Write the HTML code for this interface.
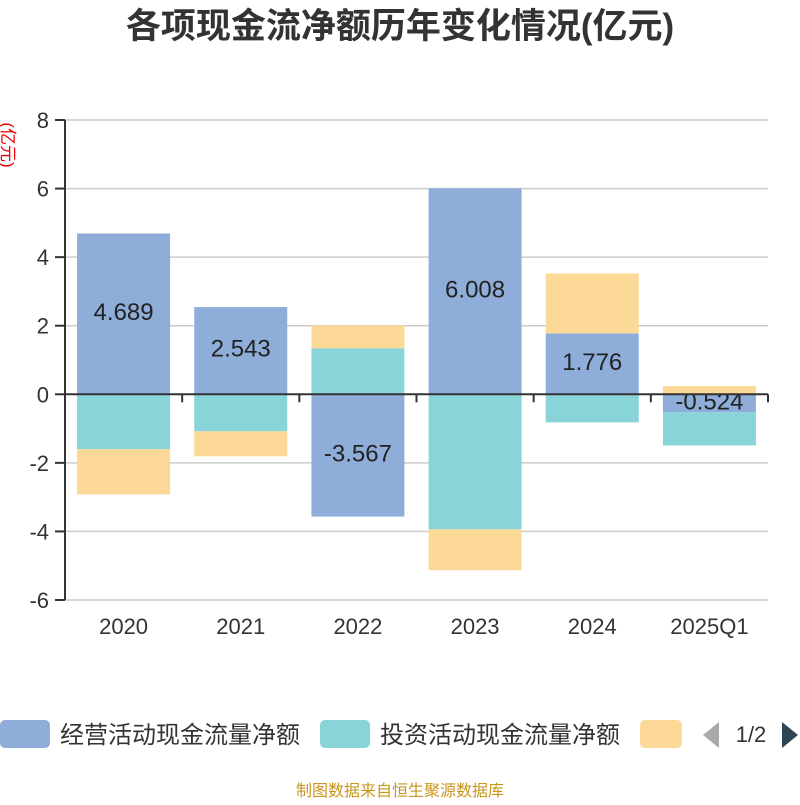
<!DOCTYPE html>
<html><head><meta charset="utf-8"><style>
body{margin:0;background:#fff;width:800px;height:800px;overflow:hidden;font-family:"Liberation Sans","Noto Sans CJK SC",sans-serif}
</style></head><body>
<svg id="c" width="800" height="800" xmlns="http://www.w3.org/2000/svg">
<text x="400" y="38" text-anchor="middle" font-size="35" font-weight="bold" fill="#333">各项现金流净额历年变化情况(亿元)</text>
<text transform="translate(2,145) rotate(90)" text-anchor="middle" font-size="17" fill="#e00">(亿元)</text>
<g id="grid"></g><g id="bars"></g><g id="axes"></g>
<g>
<rect x="0" y="720" width="50" height="28" rx="5" fill="#8eadd9"/>
<text x="60" y="743" font-size="24" fill="#333">经营活动现金流量净额</text>
<rect x="320" y="720" width="50" height="28" rx="5" fill="#88d4d8"/>
<text x="380" y="743" font-size="24" fill="#333">投资活动现金流量净额</text>
<rect x="640" y="720" width="42" height="28" rx="5" fill="#fdd998"/>
<polygon points="719,722 719,748 703,735" fill="#aaa"/>
<text x="751" y="742" text-anchor="middle" font-size="22" fill="#333">1/2</text>
<polygon points="782,722 782,748 798,735" fill="#2f4554"/>
</g>
<text x="400" y="796" text-anchor="middle" font-size="16" fill="#c8961e">制图数据来自恒生聚源数据库</text>
</svg>
<script>
const categories=["2020","2021","2022","2023","2024","2025Q1"];
const operating=[4.689,2.543,-3.567,6.008,1.776,-0.524];
const investing=[-1.60,-1.08,1.34,-3.94,-0.82,-0.97];
const financing=[-1.32,-0.73,0.67,-1.19,1.75,0.24];
const yTicks=[-6,-4,-2,0,2,4,6,8];
const NS="http://www.w3.org/2000/svg";
const x0=65,x1=768,yTop=120,yBot=600,yMin=-6,yMax=8;
const y=v=>yBot-(v-yMin)/(yMax-yMin)*(yBot-yTop);
const band=(x1-x0)/categories.length;
const xc=i=>x0+band*(i+0.5);
function mk(tag,attrs,parent){const e=document.createElementNS(NS,tag);for(const k in attrs)e.setAttribute(k,attrs[k]);document.getElementById(parent).appendChild(e);return e;}
yTicks.forEach(t=>{
 const l=mk('line',{x1:x0,x2:x1,y1:y(t),y2:y(t),stroke:'#ccc','stroke-width':1.5},'grid');
 
 
 const tk=mk('line',{x1:x0-10,x2:x0,y1:y(t),y2:y(t),stroke:'#333','stroke-width':2},'axes');
 
 
 const tx=mk('text',{x:x0-16,y:y(t)+8,'text-anchor':'end','font-size':22,fill:'#333'},'axes');
 tx.textContent=t;
 
 
});
const ya=mk('line',{x1:x0,x2:x0,y1:yTop,y2:yBot,stroke:'#333','stroke-width':2},'axes');


const xa=mk('line',{x1:x0,x2:x1,y1:y(0),y2:y(0),stroke:'#333','stroke-width':2},'axes');


for(let i=0;i<=categories.length;i++){
 const t=mk('line',{x1:x0+band*i,x2:x0+band*i,y1:y(0),y2:y(0)+8,stroke:'#333','stroke-width':2},'axes');
 
 
}
const series=[[operating,'#8eadd9','operating'],[investing,'#88d4d8','investing'],[financing,'#fdd998','financing']];
const bw=93;
categories.forEach((c,i)=>{
 let pos=0,neg=0;
 series.forEach(([arr,col,nm])=>{
  const v=arr[i];let a,b;
  if(v>=0){a=pos;b=pos+v;pos=b;}else{a=neg;b=neg+v;neg=b;}
  const r=mk('rect',{x:xc(i)-bw/2,width:bw,y:Math.min(y(a),y(b)),height:Math.abs(y(a)-y(b)),fill:col},'bars');
  
  
  if(nm==='operating'){
   const t=mk('text',{x:xc(i),y:(y(a)+y(b))/2+6,'text-anchor':'middle','font-size':24,fill:'#222'},'bars');
   t.textContent=v.toFixed(3);
   
   
  }
 });
 const xl=mk('text',{x:xc(i),y:634,'text-anchor':'middle','font-size':22,fill:'#333'},'axes');
 xl.textContent=c;
 
 
});
</script>
</body></html>
